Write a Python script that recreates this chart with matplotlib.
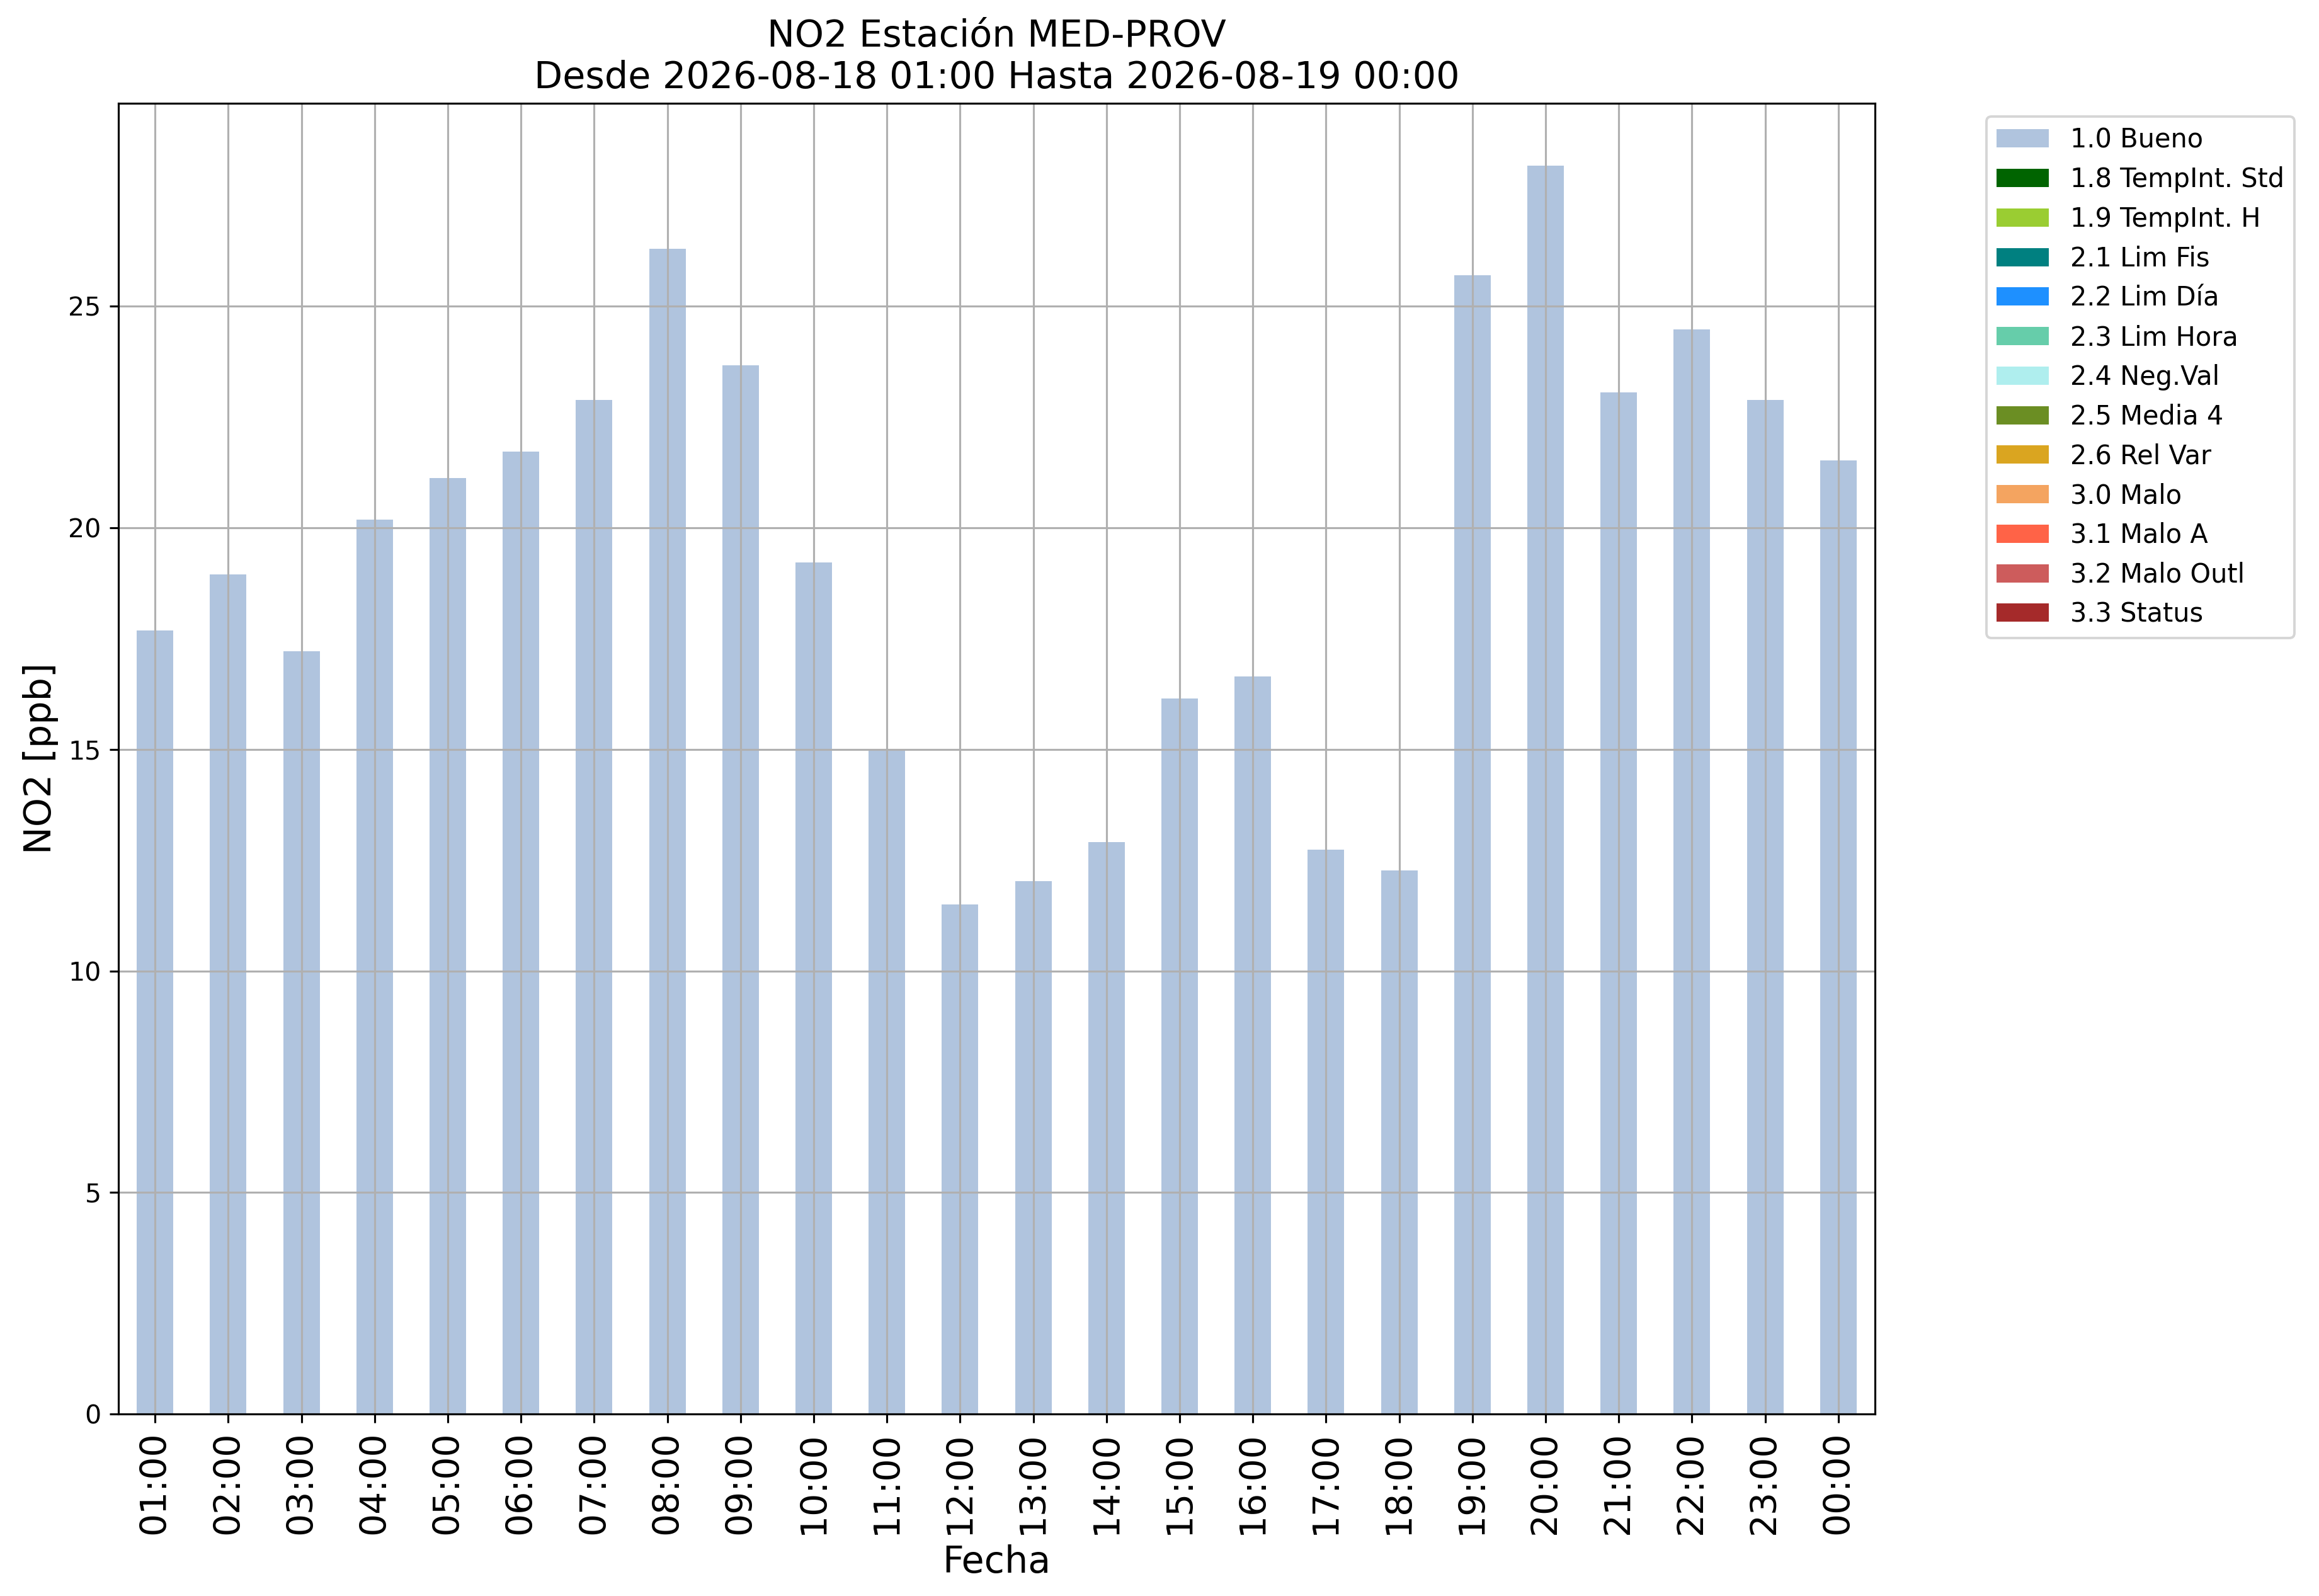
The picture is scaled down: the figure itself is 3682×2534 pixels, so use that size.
import matplotlib
matplotlib.use('Agg')
import matplotlib.pyplot as plt
from matplotlib.patches import Patch

# hourly NO2 values
horas = ['01:00', '02:00', '03:00', '04:00', '05:00', '06:00', '07:00', '08:00',
         '09:00', '10:00', '11:00', '12:00', '13:00', '14:00', '15:00', '16:00',
         '17:00', '18:00', '19:00', '20:00', '21:00', '22:00', '23:00', '00:00']
no2 = [17.68, 18.95, 17.21, 20.19, 21.12, 21.72, 22.89, 26.30,
       23.66, 19.22, 14.97, 11.50, 12.03, 12.90, 16.14, 16.64,
       12.73, 12.27, 25.70, 28.17, 23.06, 24.47, 22.89, 21.52]
flag_hora = ['1.0 Bueno'] * len(horas)

flags = ['1.0 Bueno', '1.8 TempInt. Std', '1.9 TempInt. H', '2.1 Lim Fis', '2.2 Lim Día',
         '2.3 Lim Hora', '2.4 Neg.Val', '2.5 Media 4', '2.6 Rel Var', '3.0 Malo',
         '3.1 Malo A', '3.2 Malo Outl', '3.3 Status']
colores = ['lightsteelblue', 'darkgreen', 'yellowgreen', 'teal', 'dodgerblue',
           'mediumaquamarine', 'paleturquoise', 'olivedrab', 'goldenrod', 'sandybrown',
           'tomato', 'indianred', 'brown']

fig, ax = plt.subplots(figsize=(3682 / 282, 2534 / 282), dpi=282)
fig.subplots_adjust(left=0.0511, right=0.8085, top=0.9353, bottom=0.1140)

x = list(range(len(horas)))
ax.bar(x, no2, width=0.5, color=[colores[flags.index(f)] for f in flag_hora])
ax.set_xlim(-0.5, len(horas) - 0.5)
ax.set_ylim(0, max(no2) * 1.05)
ax.set_xticks(x)
ax.set_xticklabels(horas, rotation=90, fontsize=14.5)
ax.tick_params(axis='y', labelsize=10.5)
ax.grid(True)

ax.set_title('NO2 Estación MED-PROV\nDesde 2026-08-18 01:00 Hasta 2026-08-19 00:00', fontsize=15)
ax.set_xlabel('Fecha', fontsize=15)
ax.set_ylabel('NO2 [ppb]', fontsize=15)

handles = [Patch(facecolor=c, label=f) for f, c in zip(flags, colores)]
ax.legend(handles=handles, bbox_to_anchor=(1.056, 1), loc='upper left', fontsize=10.6)

plt.savefig('out.png', dpi=282)
